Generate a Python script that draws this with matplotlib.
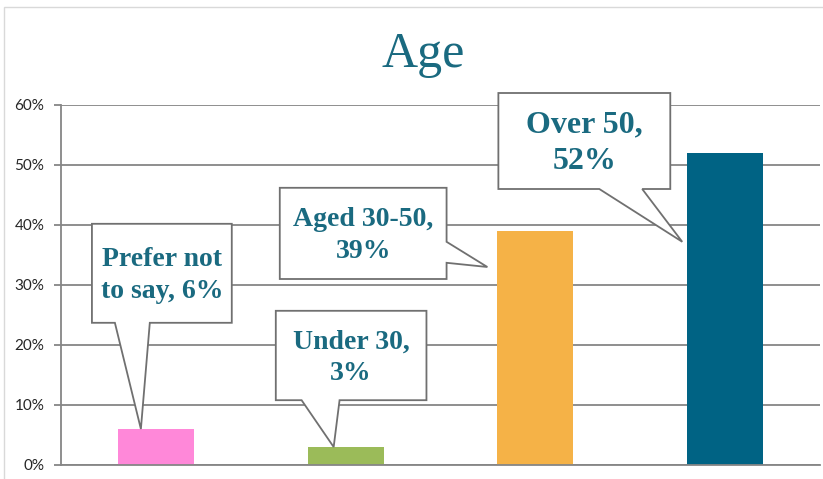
"""Bar chart of respondents by age group, with speech-bubble callouts."""

import matplotlib.pyplot as plt
from matplotlib.patches import Polygon, Rectangle
from matplotlib.ticker import FuncFormatter

categories = ["Prefer not to say", "Under 30", "Aged 30-50", "Over 50"]
shares = [6, 3, 39, 52]
callout_text = ["Prefer not\nto say, {}%", "Under 30,\n{}%", "Aged 30-50,\n{}%", "Over 50,\n{}%"]
bar_colors = ["#FF88D9", "#9BBB59", "#F5B247", "#006384"]

TEAL_TEXT = "#1A6A80"
GRID = "#868686"

# box (x0, x1, y_bottom, y_top), tail side, tail base span, tip offset from bar
callouts = [
    dict(box=(-0.337, 0.400, 23.7, 40.2), side="bottom", base=(-0.216, -0.032), tip=(-0.079, 0.0), size=20),
    dict(box=(0.632, 1.426, 10.8, 25.7), side="bottom", base=(0.768, 0.968), tip=(-0.063, 0.0), size=20),
    dict(box=(0.653, 1.532, 31.0, 46.2), side="right", base=(37.2, 33.7), tip=(-0.253, -6.0), size=20),
    dict(box=(1.805, 2.711, 46.0, 62.0), side="bottom", base=(2.337, 2.563), tip=(-0.226, -14.8), size=23),
]


def callout_vertices(box, side, base, tip):
    """Outline of a rectangular bubble with a pointed tail."""

    x0, x1, y0, y1 = box
    if side == "bottom":
        return [(x0, y1), (x1, y1), (x1, y0), (base[1], y0), tip, (base[0], y0), (x0, y0)]
    return [(x0, y1), (x1, y1), (x1, base[0]), tip, (x1, base[1]), (x1, y0), (x0, y0)]


fig = plt.figure(figsize=(8.23, 4.79), dpi=100)
ax = fig.add_axes([61 / 823, 14 / 479, 759 / 823, 360 / 479])

positions = range(len(categories))
ax.bar(positions, shares, width=0.4, color=bar_colors, zorder=2)

ax.set_xlim(-0.5, 3.5)
ax.set_ylim(0, 60)
ax.set_yticks(range(0, 61, 10))
ax.yaxis.set_major_formatter(FuncFormatter(lambda v, _: f"{v:.0f}%"))
ax.set_xticks([])
ax.grid(axis="y", color=GRID, linewidth=1.3)
ax.set_axisbelow(True)
for name in ("top", "right"):
    ax.spines[name].set_visible(False)
for name in ("left", "bottom"):
    ax.spines[name].set_color(GRID)
    ax.spines[name].set_linewidth(1.3)
ax.tick_params(axis="y", direction="out", length=5, width=1.3, color=GRID, pad=7,
               labelsize=11, labelcolor="#262626")
for label in ax.get_yticklabels():
    label.set_fontfamily("Lato")

for i, (value, text, spec) in enumerate(zip(shares, callout_text, callouts)):
    tip = (i + spec["tip"][0], value + spec["tip"][1])
    verts = callout_vertices(spec["box"], spec["side"], spec["base"], tip)
    ax.add_patch(Polygon(verts, closed=True, facecolor="white", edgecolor="#707070",
                         linewidth=1.3, zorder=3, clip_on=False))
    x0, x1, y0, y1 = spec["box"]
    ax.text((x0 + x1) / 2, (y0 + y1) / 2 - 0.4, text.format(value), ha="center", va="center",
            fontsize=spec["size"], fontweight="bold", family="Liberation Serif",
            color=TEAL_TEXT, linespacing=1.35, zorder=4, clip_on=False)

fig.text(423 / 823, 1 - 55 / 479, "Age", ha="center", va="center", fontsize=36,
         family="Liberation Serif", color=TEAL_TEXT)

# light frame around the whole chart
fig.patches.append(Rectangle((4 / 823, -0.01), 1.02, 1 - 7 / 479 + 0.01, transform=fig.transFigure,
                             fill=False, edgecolor="#d9d9d9", linewidth=1.0))

fig.savefig("out.png", dpi=100)
